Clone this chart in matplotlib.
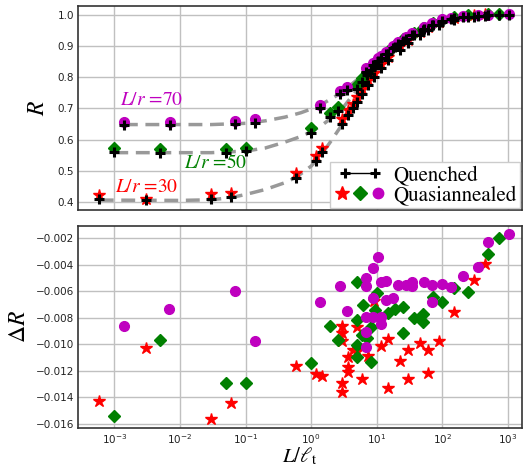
import numpy as np
import matplotlib
matplotlib.use('Agg')
import matplotlib.pyplot as plt
from matplotlib.lines import Line2D
from matplotlib.legend_handler import HandlerLine2D, HandlerTuple

plt.rcParams['mathtext.fontset'] = 'stix'
plt.rcParams['font.family'] = 'DejaVu Sans'

# ---- top panel: R vs L/lt (quenched and quasiannealed) ----
x30 = [5.9e-4, 3e-3, 0.03, 0.06, 0.59, 1.19, 1.47, 2.94, 3.7, 4.3, 4.97, 5.93,
       7.3, 8.9, 11.7, 14.8, 22.2, 29.8, 44.8, 59.3, 89.4, 148, 298, 449]
rq30 = [0.408, 0.406, 0.409, 0.415, 0.478, 0.532, 0.559, 0.649, 0.679, 0.700, 0.721, 0.746,
        0.776, 0.800, 0.830, 0.855, 0.888, 0.910, 0.935, 0.950, 0.966, 0.982, 0.993, 0.997]
rqa30 = [0.422, 0.409, 0.424, 0.428, 0.492, 0.547, 0.574, 0.666, 0.695, 0.714, 0.737, 0.761,
         0.791, 0.812, 0.842, 0.865, 0.899, 0.920, 0.944, 0.960, 0.975, 0.990, 0.998, 1.001]

x50 = [1e-3, 5e-3, 0.05, 0.1, 0.99, 1.95, 2.52, 4.97, 5.93, 7.2, 8.2, 9.5,
       14.8, 19.1, 25, 36.3, 50, 73, 98, 148, 245, 494, 725]
rq50 = [0.561, 0.558, 0.558, 0.564, 0.622, 0.671, 0.690, 0.762, 0.785, 0.808, 0.822, 0.838,
        0.875, 0.895, 0.915, 0.935, 0.952, 0.968, 0.978, 0.988, 0.994, 0.998, 0.999]
rqa50 = [0.574, 0.569, 0.570, 0.574, 0.636, 0.686, 0.703, 0.775, 0.797, 0.818, 0.832, 0.847,
         0.883, 0.902, 0.922, 0.941, 0.958, 0.974, 0.983, 0.993, 0.998, 1.001, 1.002]

x70 = [1.4e-3, 7e-3, 0.07, 0.14, 1.37, 2.77, 3.5, 6.9, 8.7, 10.3, 11.5, 13.9,
       17.4, 20.7, 27.6, 34.3, 51.6, 69, 100, 135, 204, 343, 493, 1020]
rq70 = [0.646, 0.647, 0.650, 0.654, 0.702, 0.745, 0.758, 0.818, 0.838, 0.852, 0.862, 0.875,
        0.893, 0.905, 0.922, 0.935, 0.955, 0.968, 0.980, 0.986, 0.992, 0.996, 0.998, 0.999]
rqa70 = [0.657, 0.656, 0.659, 0.665, 0.711, 0.756, 0.767, 0.828, 0.846, 0.860, 0.869, 0.882,
         0.899, 0.911, 0.927, 0.940, 0.960, 0.973, 0.985, 0.990, 0.996, 1.000, 1.000, 1.001]

# fit curves
xFit30 = [6e-4, 0.01, 0.03, 0.06, 0.1, 0.2, 0.4, 0.6, 1.0, 1.5, 2, 3, 4, 5, 7, 10,
          15, 25, 40, 70, 120, 250, 500, 1000]
rFit30 = [0.406, 0.405, 0.407, 0.414, 0.424, 0.440, 0.462, 0.480, 0.515, 0.558, 0.595, 0.650,
          0.690, 0.722, 0.768, 0.815, 0.860, 0.910, 0.945, 0.970, 0.985, 0.995, 0.999, 1.0]
xFit50 = [1e-3, 0.03, 0.1, 0.2, 0.4, 0.7, 1.0, 1.5, 2, 3, 5, 7, 10, 15, 25, 40, 70,
          120, 250, 500, 1000]
rFit50 = [0.558, 0.558, 0.563, 0.573, 0.592, 0.610, 0.625, 0.648, 0.668, 0.700, 0.760, 0.800,
          0.840, 0.878, 0.918, 0.946, 0.970, 0.985, 0.995, 0.999, 1.0]
xFit70 = [1.4e-3, 0.03, 0.1, 0.2, 0.4, 0.7, 1.0, 1.5, 2.5, 4, 6, 10, 15, 25, 40, 70,
          120, 250, 500, 1000]
rFit70 = [0.648, 0.648, 0.652, 0.660, 0.672, 0.686, 0.698, 0.715, 0.742, 0.775, 0.805, 0.848,
          0.882, 0.920, 0.948, 0.970, 0.985, 0.995, 0.999, 1.0]

# ---- bottom panel: Delta R ----
dx30 = [5.9e-4, 3.0e-3, 0.03, 0.06, 0.59, 1.19, 1.47, 2.94, 2.94, 2.94, 2.94, 2.94,
        3.7, 3.7, 3.7, 4.32, 4.97, 4.97, 5.93, 7.3, 8.9, 11.7, 14.8, 14.8,
        22.2, 29.8, 29.8, 44.8, 59.3, 59.3, 89.4, 148, 298, 449]
dr30 = [-0.0143, -0.0103, -0.0156, -0.0144, -0.0116, -0.01226, -0.0124, -0.00862, -0.00917,
        -0.00973, -0.01294, -0.01362, -0.01098, -0.01169, -0.01207, -0.01043, -0.01048,
        -0.00867, -0.01262, -0.01088, -0.00673, -0.01013, -0.00962, -0.01328, -0.01126,
        -0.01043, -0.01264, -0.00992, -0.01043, -0.01219, -0.00973, -0.00754, -0.00515, -0.00394]

dx50 = [1e-3, 5e-3, 0.05, 0.1, 0.99, 1.95, 2.52, 4.97, 4.97, 4.97, 4.97, 6.06, 5.93,
        7.2, 8.2, 8.2, 10.0, 9.5, 14.8, 19.1, 25, 25, 36.3, 50, 50, 73, 98, 148, 245,
        494, 725]
dr50 = [-0.01541, -0.00968, -0.01294, -0.01294, -0.01143, -0.0086, -0.00968, -0.00532,
        -0.00817, -0.01005, -0.01094, -0.00706, -0.0093, -0.00955, -0.00872, -0.01131,
        -0.0061, -0.00741, -0.00766, -0.00736, -0.00716, -0.00912, -0.00804, -0.00774,
        -0.00834, -0.00641, -0.00679, -0.00577, -0.00603, -0.00321, -0.0020]

dx70 = [1.4e-3, 6.9e-3, 0.069, 0.14, 1.37, 2.77, 3.5, 6.9, 6.9, 6.9, 6.9, 6.9, 8.7, 8.7,
        8.7, 10.3, 11.5, 11.5, 11.5, 13.9, 13.9, 17.4, 20.7, 27.6, 34.3, 34.3, 51.6, 69,
        69, 100, 135, 204, 343, 493, 1020]
dr70 = [-0.0086, -0.00734, -0.00598, -0.00973, -0.00681, -0.00558, -0.00749, -0.00497,
        -0.0056, -0.00792, -0.00909, -0.01023, -0.00422, -0.00653, -0.00792, -0.00343,
        -0.00527, -0.00792, -0.00849, -0.0052, -0.00666, -0.00648, -0.00552, -0.00552,
        -0.00527, -0.00558, -0.00532, -0.00552, -0.00679, -0.00547, -0.00565, -0.00485,
        -0.00414, -0.00226, -0.00168]

xTicks = [1e-3, 1e-2, 1e-1, 1, 10, 100, 1000]
topTicks = [0.4, 0.5, 0.6, 0.7, 0.8, 0.9, 1.0]
botTicks = [-0.016, -0.014, -0.012, -0.010, -0.008, -0.006, -0.004, -0.002]

red = 'red'
green = 'green'
mag = 'm'
serif = 'STIXGeneral'

fig = plt.figure(figsize=(5.25, 4.7), dpi=100)
ax1 = fig.add_axes([0.149, 0.553, 0.845, 0.435])
ax2 = fig.add_axes([0.149, 0.089, 0.845, 0.431])

for ax in (ax1, ax2):
    ax.set_xscale('log')
    ax.set_xlim(2.82e-4, 1620)
    ax.set_xticks(xTicks)
    ax.minorticks_off()
    ax.grid(True, color='#c0c0c0', lw=1.0)
    ax.set_axisbelow(True)
    ax.tick_params(length=0, labelsize=7.5, pad=3, colors='#222222')
    for s in ax.spines.values():
        s.set_color('#333333')
        s.set_linewidth(1.2)

# top panel
for xf, rf in ((xFit30, rFit30), (xFit50, rFit50), (xFit70, rFit70)):
    ax1.plot(xf, rf, color='#999999', lw=2.5, ls=(0, (4, 2.2)), zorder=2)
ax1.plot(x30, rqa30, '*', color=red, ms=9, ls='none', zorder=3)
ax1.plot(x50, rqa50, 'D', color=green, ms=6.5, ls='none', zorder=3)
ax1.plot(x70, rqa70, 'o', color=mag, ms=7, ls='none', zorder=3)
for xq, rq in ((x30, rq30), (x50, rq50), (x70, rq70)):
    ax1.plot(xq, rq, '+', color='black', ms=6.5, mew=2.2, ls='none', zorder=4)

ax1.set_ylim(0.374, 1.029)
ax1.set_yticks(topTicks)
ax1.set_yticklabels(['%.1f' % t for t in topTicks])
ax1.tick_params(labelbottom=False)
ax1.set_ylabel(r'$R$', fontsize=17, labelpad=6)

ax1.text(1.23e-3, 0.726, r'$L/r$ =70', color=mag, fontsize=14, family=serif, va='center')
ax1.text(1.16e-2, 0.526, r'$L/r$ =50', color=green, fontsize=14, family=serif, va='center')
ax1.text(1.03e-3, 0.446, r'$L/r$ =30', color=red, fontsize=14, family=serif, va='center')

qHandle = Line2D([], [], color='black', marker='+', ms=7, mew=2.2, lw=1)
sHandle = Line2D([], [], color=red, marker='*', ms=10, ls='none')
dHandle = Line2D([], [], color=green, marker='D', ms=7, ls='none')
cHandle = Line2D([], [], color=mag, marker='o', ms=7.5, ls='none')
ax1.legend([qHandle, (sHandle, dHandle, cHandle)], ['Quenched', 'Quasiannealed'],
           handler_map={qHandle: HandlerLine2D(numpoints=2, marker_pad=0.6),
                        tuple: HandlerTuple(ndivide=None, pad=0)},
           loc='lower right', prop={'family': serif, 'size': 15}, numpoints=1,
           handlelength=2.6, handletextpad=0.3, labelspacing=0.0, borderpad=0.15,
           borderaxespad=0.1, framealpha=1, edgecolor='#cccccc', fancybox=False)

# bottom panel
ax2.plot(dx30, dr30, '*', color=red, ms=9, ls='none', zorder=3)
ax2.plot(dx50, dr50, 'D', color=green, ms=6.5, ls='none', zorder=3)
ax2.plot(dx70, dr70, 'o', color=mag, ms=7, ls='none', zorder=3)
ax2.set_ylim(-0.01632, -0.00105)
ax2.set_yticks(botTicks)
ax2.set_yticklabels(['\u2212%.3f' % abs(t) for t in botTicks])
ax2.set_ylabel(r'$\Delta R$', fontsize=17, labelpad=4)
ax2.set_xlabel(r'$L/\ell_{\rm t}$', fontsize=15)
ax2.xaxis.set_label_coords(0.5, -0.085)

fig.savefig('out.png', dpi=100)
